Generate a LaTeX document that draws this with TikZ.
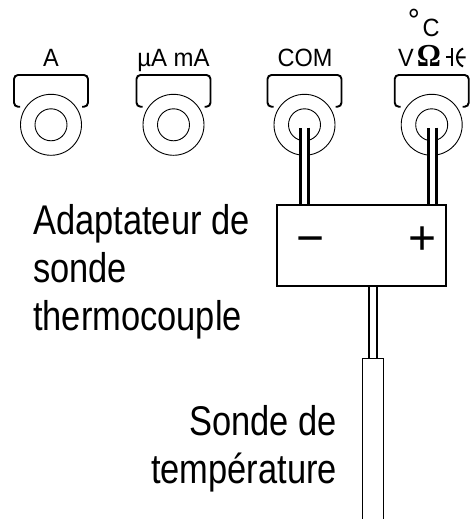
\documentclass[tikz,border=0pt]{standalone}
\usepackage{fontspec}
\setmainfont{Liberation Sans}
\newfontfamily\omegafont{Liberation Serif}
\usepackage{tikz}
\usetikzlibrary{backgrounds}

\begin{document}
\begin{tikzpicture}[x=1pt,y=-1pt,line cap=round,
  jackout/.style={circle,draw,line width=0.9pt,minimum size=61pt,inner sep=0pt,outer sep=0pt},
  jackin/.style={circle,draw,line width=0.9pt,minimum size=32pt,inner sep=0pt,outer sep=0pt},
  collar/.style={line width=1.9pt},
  wire/.style={line width=2.4pt,double=white,double distance=5.6pt},
  jacklabel/.style={anchor=base,font=\fontsize{25}{25}\selectfont,xscale=0.94,inner sep=0pt},
  bigtext/.style={font=\fontsize{41.5}{48}\selectfont,xscale=0.83,inner sep=0pt},
  sign/.style={anchor=base,font=\fontsize{48}{48}\selectfont,inner sep=0pt}]
\useasboundingbox (0,0) rectangle (469,519);
\clip (0,0) rectangle (469,519);
% adapter and probe
\node[draw,fill=white,line width=2.2pt,minimum width=169pt,minimum height=81pt,inner sep=0pt,outer sep=0pt] (adapter) at (361.5,245.5) {};
\node[draw,fill=white,line width=1pt,minimum width=21pt,minimum height=162pt,inner sep=0pt,outer sep=0pt] (probe) at (372.7,439) {};
\node[sign] (minus) at (310.3,254) {−};
\node[sign] (plus) at (422.3,254) {+};
% jack labels
\node[jacklabel] (labela) at (51,66.5) {A};
\node[jacklabel,xscale=1.02] (labelua) at (173.5,66.5) {µA mA};
\node[jacklabel] (labelcom) at (305,66.5) {COM};
\node[jacklabel] (labelv) at (406,66.5) {V};
\node[jacklabel,font=\fontsize{32}{32}\bfseries\omegafont,xscale=1] (labelohm) at (429,66.5) {Ω};
\node[jacklabel] (labelc) at (431,37) {C};
\node[jacklabel,font=\fontsize{32}{32}\selectfont,xscale=1] (labeldeg) at (414,32) {°};
% capacitor sign
\draw[line width=2pt,line cap=butt] (446,57.5) -- (452,57.5) (452,48.5) -- (452,66.5);
\draw[line width=2pt,line cap=butt] (463,48.5) .. controls (455,52) and (455,63) .. (463,66.5) (457,57.5) -- (465.5,57.5);
% texts
\node[bigtext,anchor=north west,align=left] (adaptertext) at (33,204) {Adaptateur de\\sonde\\thermocouple};
\node[bigtext,anchor=north east,align=right] (probetext) at (337,405) {Sonde de\\température};
\begin{pgfonlayer}{background}
\foreach \name/\xpos in {a/51,ua/173.5,com/304.5,v/431.7}{
  \node[jackout] (jackout\name) at (\xpos,124.8) {};
  \node[jackin] (jackin\name) at (\xpos,124.8) {};
  \draw[collar,rounded corners=4pt] (\xpos-31,106.7) -- (\xpos-37,106.7) -- (\xpos-37,75) -- (\xpos+37,75) -- (\xpos+37,106.7) -- (\xpos+31,106.7);
}
\coordinate (plugcom) at (304.5,127.5);
\coordinate (plugv) at (432.5,127.5);
\draw[wire] (plugcom) -- (plugcom |- adapter.center);
\draw[wire] (plugv) -- (plugv |- adapter.center);
\draw[wire,line cap=butt] (adapter.south -| probe.north) -- (probe.north);
\end{pgfonlayer}
\end{tikzpicture}
\end{document}
